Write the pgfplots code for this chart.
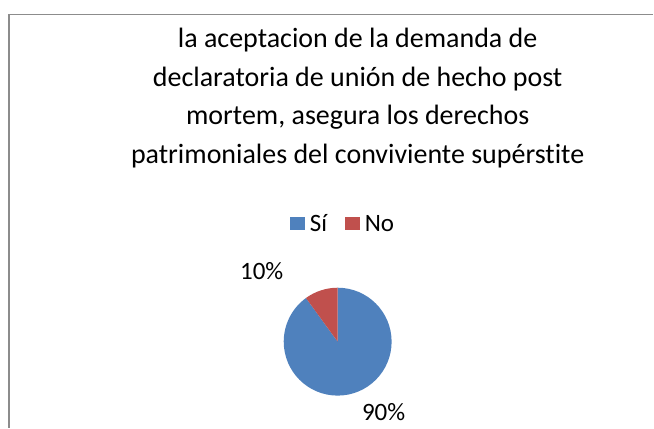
\documentclass[border=0pt]{standalone}
\usepackage{pgfplots}
\usepackage{pgfplotstable}
\pgfplotsset{compat=1.18}
\usepackage{fontspec}
\setmainfont[Ligatures=NoCommon]{Carlito}
\definecolor{siblue}{HTML}{4F81BD}
\definecolor{nored}{HTML}{C0504D}
\definecolor{frame}{HTML}{8C8C8C}
\pgfplotstableread{
label value
Sí 90
No 10
}\piedata
\begin{document}
\begin{tikzpicture}
\begin{axis}[
  x=1bp, y=1bp, xmin=0, xmax=654, ymin=0, ymax=428,
  hide axis, clip=false, scale only axis,
]
\addplot[draw=none] coordinates {(0,0) (654,428)};
\pgfplotsextra{
  \path (axis cs:0,0) rectangle (axis cs:654,428);
  \draw[frame, line width=1.3bp] (axis cs:9,0) -- (axis cs:9,413.5) -- (axis cs:654,413.5);
  \node[align=center, font=\fontsize{28bp}{38.5bp}\selectfont, anchor=center] at (axis cs:358,330)
    {la aceptacion de la demanda de\\declaratoria de unión de hecho post\\mortem, asegura los derechos\\patrimoniales del conviviente supérstite};
  \pgfplotstablegetelem{0}{value}\of\piedata \let\va\pgfplotsretval
  \pgfplotstablegetelem{1}{value}\of\piedata \let\vb\pgfplotsretval
  \pgfmathsetmacro\aend{90-3.6*\va}
  \pgfmathsetmacro\bend{\aend-3.6*\vb}
  \fill[siblue] (axis cs:338,86) -- ++(90:54bp) arc[start angle=90,end angle=\aend,radius=54bp] -- cycle;
  \fill[nored] (axis cs:338,86) -- ++(\aend:54bp) arc[start angle=\aend,end angle=\bend,radius=54bp] -- cycle;
  \node[font=\fontsize{25bp}{30bp}\selectfont] at (axis cs:262,157) {\vb\%};
  \node[font=\fontsize{25bp}{30bp}\selectfont] at (axis cs:384,16) {\va\%};
  % legend
  \fill[siblue] (axis cs:290,198) rectangle (axis cs:305,211);
  \node[font=\fontsize{25bp}{30bp}\selectfont, anchor=west, inner sep=0pt] at (axis cs:310,204.5) {Sí};
  \fill[nored] (axis cs:345,198) rectangle (axis cs:360,211);
  \node[font=\fontsize{25bp}{30bp}\selectfont, anchor=west, inner sep=0pt] at (axis cs:365,204.5) {No};
}
\end{axis}
\end{tikzpicture}
\end{document}
